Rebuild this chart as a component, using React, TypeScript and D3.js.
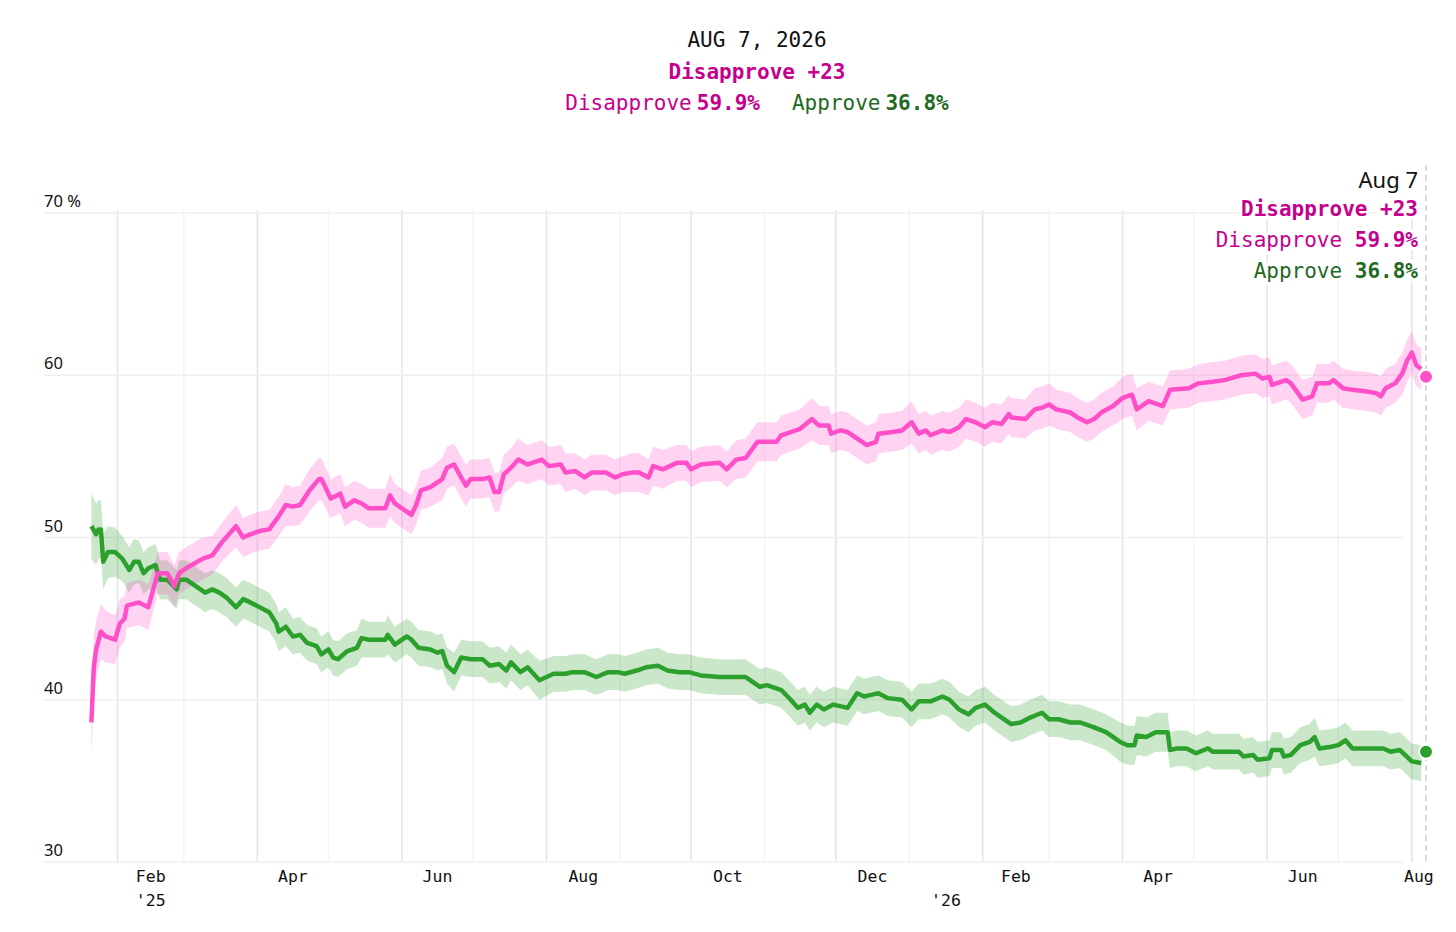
import React, { useEffect, useRef } from 'react';
import * as d3 from 'd3';

// [date, value, margin]
const disapprove: [string, number, number][] = [
  ['2025-01-21', 38.6, 2.0], ['2025-01-22', 42.0, 1.9], ['2025-01-23', 43.1, 1.8], ['2025-01-25', 44.2, 1.7],
  ['2025-01-27', 43.9, 1.6], ['2025-01-31', 43.7, 1.5], ['2025-02-02', 44.7, 1.5], ['2025-02-04', 45.0, 1.4],
  ['2025-02-05', 45.8, 1.4], ['2025-02-10', 46.0, 1.4], ['2025-02-14', 45.7, 1.4], ['2025-02-18', 47.8, 1.3],
  ['2025-02-22', 47.8, 1.3], ['2025-02-25', 47.0, 1.3], ['2025-02-27', 47.8, 1.3], ['2025-03-03', 48.2, 1.3],
  ['2025-03-09', 48.7, 1.3], ['2025-03-13', 48.9, 1.2], ['2025-03-17', 49.7, 1.2], ['2025-03-23', 50.7, 1.3],
  ['2025-03-26', 50.0, 1.2], ['2025-03-29', 50.2, 1.2], ['2025-04-02', 50.4, 1.2], ['2025-04-06', 50.5, 1.2],
  ['2025-04-10', 51.3, 1.2], ['2025-04-13', 52.0, 1.3], ['2025-04-16', 51.9, 1.2], ['2025-04-19', 52.0, 1.2],
  ['2025-04-23', 52.9, 1.3], ['2025-04-27', 53.6, 1.3], ['2025-04-28', 53.6, 1.3], ['2025-05-02', 52.4, 1.2],
  ['2025-05-06', 52.7, 1.2], ['2025-05-08', 51.9, 1.2], ['2025-05-12', 52.3, 1.2], ['2025-05-15', 52.1, 1.2],
  ['2025-05-18', 51.8, 1.2], ['2025-05-25', 51.8, 1.2], ['2025-05-27', 52.6, 1.3], ['2025-05-29', 52.1, 1.2],
  ['2025-06-01', 51.8, 1.2], ['2025-06-05', 51.4, 1.2], ['2025-06-07', 52.0, 1.2], ['2025-06-09', 52.9, 1.2],
  ['2025-06-13', 53.1, 1.2], ['2025-06-18', 53.6, 1.3], ['2025-06-20', 54.3, 1.3], ['2025-06-23', 54.5, 1.3],
  ['2025-06-26', 53.7, 1.3], ['2025-06-28', 53.2, 1.3], ['2025-06-30', 53.6, 1.2], ['2025-07-05', 53.6, 1.2],
  ['2025-07-08', 53.7, 1.2], ['2025-07-10', 52.8, 1.2], ['2025-07-12', 52.8, 1.2], ['2025-07-14', 53.9, 1.2],
  ['2025-07-17', 54.3, 1.2], ['2025-07-20', 54.8, 1.3], ['2025-07-24', 54.5, 1.2], ['2025-07-30', 54.8, 1.2],
  ['2025-08-02', 54.4, 1.2], ['2025-08-07', 54.5, 1.2], ['2025-08-09', 54.0, 1.2], ['2025-08-13', 54.1, 1.1],
  ['2025-08-17', 53.7, 1.1], ['2025-08-20', 54.0, 1.1], ['2025-08-26', 54.0, 1.1], ['2025-08-30', 53.7, 1.1],
  ['2025-09-02', 53.9, 1.1], ['2025-09-06', 54.0, 1.2], ['2025-09-09', 54.0, 1.2], ['2025-09-13', 53.7, 1.1],
  ['2025-09-15', 54.4, 1.2], ['2025-09-19', 54.2, 1.2], ['2025-09-25', 54.6, 1.1], ['2025-09-29', 54.6, 1.1],
  ['2025-10-01', 54.2, 1.1], ['2025-10-05', 54.5, 1.1], ['2025-10-13', 54.6, 1.1], ['2025-10-16', 54.2, 1.1],
  ['2025-10-20', 54.8, 1.2], ['2025-10-24', 54.9, 1.2], ['2025-10-29', 55.9, 1.2], ['2025-11-06', 55.9, 1.2],
  ['2025-11-08', 56.3, 1.2], ['2025-11-12', 56.5, 1.2], ['2025-11-16', 56.7, 1.2], ['2025-11-21', 57.3, 1.3],
  ['2025-11-24', 56.9, 1.2], ['2025-11-28', 56.9, 1.2], ['2025-11-29', 56.4, 1.2], ['2025-12-03', 56.6, 1.2],
  ['2025-12-06', 56.5, 1.2], ['2025-12-11', 56.0, 1.2], ['2025-12-14', 55.7, 1.2], ['2025-12-18', 55.9, 1.2],
  ['2025-12-19', 56.4, 1.2], ['2025-12-25', 56.5, 1.2], ['2025-12-29', 56.6, 1.2], ['2026-01-02', 57.1, 1.3],
  ['2026-01-05', 56.4, 1.2], ['2026-01-08', 56.6, 1.2], ['2026-01-10', 56.3, 1.2], ['2026-01-15', 56.6, 1.2],
  ['2026-01-18', 56.5, 1.2], ['2026-01-22', 56.8, 1.2], ['2026-01-25', 57.3, 1.2], ['2026-01-29', 57.1, 1.2],
  ['2026-02-02', 56.8, 1.2], ['2026-02-05', 57.1, 1.2], ['2026-02-09', 57.0, 1.2], ['2026-02-12', 57.6, 1.2],
  ['2026-02-13', 57.4, 1.2], ['2026-02-19', 57.3, 1.2], ['2026-02-23', 57.9, 1.3], ['2026-02-26', 58.0, 1.3],
  ['2026-03-01', 58.2, 1.3], ['2026-03-04', 57.9, 1.2], ['2026-03-10', 57.7, 1.2], ['2026-03-13', 57.4, 1.2],
  ['2026-03-17', 57.1, 1.2], ['2026-03-20', 57.3, 1.2], ['2026-03-23', 57.7, 1.2], ['2026-03-28', 58.1, 1.2],
  ['2026-04-01', 58.6, 1.3], ['2026-04-05', 58.8, 1.3], ['2026-04-07', 57.9, 1.3], ['2026-04-12', 58.4, 1.2],
  ['2026-04-18', 58.1, 1.2], ['2026-04-21', 59.1, 1.2], ['2026-04-29', 59.2, 1.2], ['2026-05-03', 59.5, 1.2],
  ['2026-05-09', 59.6, 1.2], ['2026-05-14', 59.7, 1.2], ['2026-05-21', 60.0, 1.2], ['2026-05-27', 60.1, 1.2],
  ['2026-05-30', 59.8, 1.2], ['2026-06-02', 59.9, 1.2], ['2026-06-03', 59.4, 1.2], ['2026-06-09', 59.7, 1.2],
  ['2026-06-11', 59.5, 1.2], ['2026-06-16', 58.5, 1.2], ['2026-06-20', 58.7, 1.2], ['2026-06-22', 59.5, 1.2],
  ['2026-06-27', 59.5, 1.2], ['2026-06-29', 59.7, 1.2], ['2026-07-03', 59.2, 1.2], ['2026-07-07', 59.1, 1.2],
  ['2026-07-13', 59.0, 1.2], ['2026-07-17', 58.9, 1.2], ['2026-07-19', 58.7, 1.2], ['2026-07-21', 59.2, 1.2],
  ['2026-07-25', 59.5, 1.2], ['2026-07-28', 60.1, 1.3], ['2026-07-30', 60.9, 1.3], ['2026-08-01', 61.4, 1.3],
  ['2026-08-03', 60.6, 1.3], ['2026-08-05', 60.4, 1.3],
];

const approve: [string, number, number][] = [
  ['2025-01-21', 50.7, 2.0], ['2025-01-23', 50.2, 1.9], ['2025-01-24', 50.5, 1.8], ['2025-01-25', 50.5, 1.8],
  ['2025-01-26', 48.5, 1.7], ['2025-01-28', 49.1, 1.6], ['2025-01-31', 49.1, 1.5], ['2025-02-03', 48.7, 1.4],
  ['2025-02-06', 48.0, 1.4], ['2025-02-08', 48.5, 1.4], ['2025-02-10', 48.5, 1.3], ['2025-02-12', 47.8, 1.3],
  ['2025-02-14', 48.1, 1.3], ['2025-02-17', 48.3, 1.3], ['2025-02-19', 47.4, 1.2], ['2025-02-22', 47.4, 1.2],
  ['2025-02-26', 46.8, 1.2], ['2025-02-27', 47.4, 1.2], ['2025-03-02', 47.4, 1.2], ['2025-03-06', 47.0, 1.2],
  ['2025-03-10', 46.6, 1.2], ['2025-03-13', 46.8, 1.2], ['2025-03-16', 46.6, 1.2], ['2025-03-19', 46.3, 1.2],
  ['2025-03-23', 45.7, 1.2], ['2025-03-26', 46.2, 1.2], ['2025-03-29', 46.0, 1.2], ['2025-04-02', 45.7, 1.2],
  ['2025-04-06', 45.4, 1.2], ['2025-04-09', 44.7, 1.2], ['2025-04-10', 44.2, 1.2], ['2025-04-13', 44.5, 1.2],
  ['2025-04-16', 43.9, 1.1], ['2025-04-19', 44.0, 1.1], ['2025-04-22', 43.5, 1.1], ['2025-04-26', 43.3, 1.1],
  ['2025-04-28', 42.8, 1.1], ['2025-05-01', 43.1, 1.1], ['2025-05-03', 42.6, 1.1], ['2025-05-05', 42.5, 1.1],
  ['2025-05-09', 43.0, 1.1], ['2025-05-13', 43.2, 1.1], ['2025-05-15', 43.8, 1.2], ['2025-05-18', 43.7, 1.1],
  ['2025-05-25', 43.7, 1.1], ['2025-05-26', 44.0, 1.2], ['2025-05-29', 43.4, 1.1], ['2025-06-03', 43.9, 1.1],
  ['2025-06-05', 43.7, 1.1], ['2025-06-08', 43.2, 1.1], ['2025-06-13', 43.1, 1.1], ['2025-06-16', 42.9, 1.1],
  ['2025-06-18', 43.0, 1.1], ['2025-06-20', 42.1, 1.1], ['2025-06-23', 41.7, 1.2], ['2025-06-26', 42.6, 1.1],
  ['2025-06-30', 42.5, 1.1], ['2025-07-05', 42.5, 1.1], ['2025-07-08', 42.1, 1.1], ['2025-07-12', 42.2, 1.1],
  ['2025-07-15', 41.8, 1.1], ['2025-07-17', 42.3, 1.1], ['2025-07-21', 41.7, 1.1], ['2025-07-24', 42.0, 1.1],
  ['2025-07-29', 41.2, 1.2], ['2025-08-04', 41.6, 1.1], ['2025-08-09', 41.6, 1.1], ['2025-08-12', 41.7, 1.1],
  ['2025-08-17', 41.7, 1.1], ['2025-08-22', 41.4, 1.1], ['2025-08-27', 41.7, 1.1], ['2025-08-31', 41.7, 1.1],
  ['2025-09-03', 41.6, 1.1], ['2025-09-08', 41.8, 1.1], ['2025-09-12', 42.0, 1.1], ['2025-09-17', 42.1, 1.1],
  ['2025-09-21', 41.8, 1.1], ['2025-09-26', 41.7, 1.1], ['2025-09-30', 41.7, 1.1], ['2025-10-05', 41.5, 1.1],
  ['2025-10-13', 41.4, 1.1], ['2025-10-18', 41.4, 1.1], ['2025-10-24', 41.4, 1.1], ['2025-10-30', 40.8, 1.1],
  ['2025-11-02', 40.9, 1.1], ['2025-11-08', 40.6, 1.1], ['2025-11-12', 40.0, 1.1], ['2025-11-15', 39.5, 1.1],
  ['2025-11-18', 39.7, 1.1], ['2025-11-20', 39.2, 1.1], ['2025-11-23', 39.7, 1.1], ['2025-11-26', 39.4, 1.1],
  ['2025-11-30', 39.7, 1.1], ['2025-12-06', 39.5, 1.1], ['2025-12-10', 40.4, 1.1], ['2025-12-13', 40.2, 1.1],
  ['2025-12-16', 40.3, 1.1], ['2025-12-19', 40.4, 1.1], ['2025-12-23', 40.1, 1.1], ['2025-12-29', 40.0, 1.1],
  ['2026-01-02', 39.4, 1.1], ['2026-01-05', 39.9, 1.1], ['2026-01-10', 39.9, 1.1], ['2026-01-15', 40.2, 1.1],
  ['2026-01-18', 40.0, 1.1], ['2026-01-22', 39.4, 1.1], ['2026-01-26', 39.1, 1.1], ['2026-01-29', 39.5, 1.1],
  ['2026-02-02', 39.7, 1.1], ['2026-02-06', 39.2, 1.1], ['2026-02-09', 38.9, 1.1], ['2026-02-13', 38.5, 1.1],
  ['2026-02-17', 38.6, 1.1], ['2026-02-21', 38.9, 1.1], ['2026-02-26', 39.2, 1.1], ['2026-03-01', 38.8, 1.1],
  ['2026-03-05', 38.8, 1.1], ['2026-03-10', 38.6, 1.1], ['2026-03-14', 38.6, 1.1], ['2026-03-20', 38.3, 1.1],
  ['2026-03-25', 38.0, 1.1], ['2026-03-31', 37.4, 1.2], ['2026-04-03', 37.2, 1.2], ['2026-04-06', 37.2, 1.2],
  ['2026-04-07', 37.8, 1.2], ['2026-04-11', 37.7, 1.2], ['2026-04-15', 38.0, 1.2], ['2026-04-20', 38.0, 1.2],
  ['2026-04-21', 36.9, 1.1], ['2026-04-24', 37.0, 1.1], ['2026-04-28', 37.0, 1.1], ['2026-05-02', 36.7, 1.1],
  ['2026-05-07', 37.0, 1.1], ['2026-05-09', 36.8, 1.1], ['2026-05-15', 36.8, 1.1], ['2026-05-20', 36.8, 1.1],
  ['2026-05-22', 36.5, 1.1], ['2026-05-26', 36.6, 1.1], ['2026-05-28', 36.3, 1.1], ['2026-06-02', 36.4, 1.1],
  ['2026-06-03', 36.9, 1.1], ['2026-06-07', 36.9, 1.1], ['2026-06-08', 36.5, 1.1], ['2026-06-11', 36.6, 1.1],
  ['2026-06-15', 37.2, 1.1], ['2026-06-19', 37.4, 1.1], ['2026-06-21', 37.7, 1.2], ['2026-06-23', 37.0, 1.1],
  ['2026-06-28', 37.1, 1.1], ['2026-07-01', 37.2, 1.1], ['2026-07-04', 37.5, 1.1], ['2026-07-07', 37.0, 1.1],
  ['2026-07-13', 37.0, 1.1], ['2026-07-20', 37.0, 1.1], ['2026-07-23', 36.8, 1.1], ['2026-07-27', 36.9, 1.1],
  ['2026-08-01', 36.2, 1.1], ['2026-08-05', 36.1, 1.1],
];

const yTicks = [30, 40, 50, 60, 70];
const yearLabels: [string, string][] = [['2025-02-01', "'25"], ['2026-01-01', "'26"]];
const latest = { date: '2026-08-07', disapprove: 59.9, approve: 36.8, net: 23 };

const PINK = '#ff4fc8';
const GREEN = '#2ca02c';
const MAGENTA_TEXT = '#c6008e';
const GREEN_TEXT = '#1f6a1f';
const MONO = '"DejaVu Sans Mono", monospace';
const SANS = '"Noto Sans", sans-serif';

const parse = d3.timeParse('%Y-%m-%d');

const App: React.FC = () => {
  const svgRef = useRef<SVGSVGElement>(null);

  useEffect(() => {
    if (!svgRef.current) return;
    const svg = d3.select(svgRef.current);
    svg.selectAll('*').remove();

    const start = new Date(2025, 0, 1);
    const end = parse(latest.date)!;
    const x = d3.scaleTime().domain([start, end]).range([44, 1426]);
    const y = d3.scaleLinear().domain([30, 70]).range([862, 213]);
    const gridRight = 1403;

    // vertical month gridlines
    const months = d3.timeMonth.range(new Date(2025, 1, 1), d3.timeDay.offset(end, 1));
    svg.append('g')
      .selectAll('line')
      .data(months)
      .enter()
      .append('line')
      .attr('x1', (d) => x(d))
      .attr('x2', (d) => x(d))
      .attr('y1', 210)
      .attr('y2', y(30))
      .attr('stroke', (d) => (d.getMonth() % 2 === 1 ? '#e3e3ea' : '#f3f3f5'))
      .attr('stroke-width', 1.5);

    // horizontal gridlines
    svg.append('g')
      .selectAll('line')
      .data(yTicks)
      .enter()
      .append('line')
      .attr('x1', 44)
      .attr('x2', gridRight)
      .attr('y1', (d) => y(d))
      .attr('y2', (d) => y(d))
      .attr('stroke', '#efefef')
      .attr('stroke-width', 1.5);

    // y labels
    svg.append('g')
      .selectAll('text')
      .data(yTicks)
      .enter()
      .append('text')
      .attr('x', 44)
      .attr('y', (d) => y(d) - 6)
      .attr('font-family', SANS)
      .attr('font-size', 16.5)
      .attr('fill', '#111')
      .text((d) => (d === 70 ? '70 %' : String(d)));

    // month labels, centered in the visible part of the month
    const labelMonths = months.filter((d) => d.getMonth() % 2 === 1);
    const mid = (d: Date) => {
      const next = d3.timeMonth.offset(d, 1);
      const a = Math.max(+d, +start);
      const b = Math.min(+next, +end);
      return x(new Date((a + b) / 2));
    };
    svg.append('g')
      .selectAll('text')
      .data(labelMonths)
      .enter()
      .append('text')
      .attr('x', (d) => mid(d))
      .attr('y', 882)
      .attr('text-anchor', 'middle')
      .attr('font-family', MONO)
      .attr('font-size', 16.5)
      .attr('fill', '#111')
      .text((d) => d3.timeFormat('%b')(d));

    svg.append('g')
      .selectAll('text')
      .data(yearLabels)
      .enter()
      .append('text')
      .attr('x', (d) => mid(parse(d[0])!))
      .attr('y', 906)
      .attr('text-anchor', 'middle')
      .attr('font-family', MONO)
      .attr('font-size', 16.5)
      .attr('fill', '#111')
      .text((d) => d[1]);

    // dashed marker for latest date
    svg.append('line')
      .attr('x1', x(end))
      .attr('x2', x(end))
      .attr('y1', 165)
      .attr('y2', y(30))
      .attr('stroke', '#c9cfd9')
      .attr('stroke-width', 1.5)
      .attr('stroke-dasharray', '6,4');

    const series = [
      { data: approve, color: GREEN },
      { data: disapprove, color: PINK },
    ];

    series.forEach((s) => {
      const pts = s.data.map(([d, v, m]) => ({ date: parse(d)!, v, m }));
      const area = d3.area<typeof pts[0]>()
        .x((d) => x(d.date))
        .y0((d) => y(d.v - d.m))
        .y1((d) => y(d.v + d.m));
      svg.append('path')
        .attr('d', area(pts))
        .attr('fill', s.color)
        .attr('fill-opacity', 0.25);
    });

    series.forEach((s) => {
      const pts = s.data.map(([d, v]) => ({ date: parse(d)!, v }));
      const line = d3.line<typeof pts[0]>()
        .x((d) => x(d.date))
        .y((d) => y(d.v));
      svg.append('path')
        .attr('d', line(pts))
        .attr('fill', 'none')
        .attr('stroke', s.color)
        .attr('stroke-width', 4.5)
        .attr('stroke-linejoin', 'round');
    });

    // end dots
    [
      { v: latest.disapprove, color: PINK },
      { v: latest.approve, color: GREEN },
    ].forEach((p) => {
      svg.append('circle')
        .attr('cx', x(end))
        .attr('cy', y(p.v))
        .attr('r', 7)
        .attr('fill', p.color)
        .attr('stroke', '#fff')
        .attr('stroke-width', 2);
    });

    // header
    const header = svg.append('g').attr('font-family', MONO).attr('font-size', 21).attr('text-anchor', 'middle');
    header.append('text').attr('x', 757).attr('y', 47).attr('fill', '#111')
      .text(d3.timeFormat('%b %-d, %Y')(end).toUpperCase());
    header.append('text').attr('x', 757).attr('y', 79).attr('fill', MAGENTA_TEXT).attr('font-weight', 'bold')
      .text(`Disapprove +${latest.net}`);
    const h3 = header.append('text').attr('x', 757).attr('y', 110);
    h3.append('tspan').attr('fill', MAGENTA_TEXT).text('Disapprove');
    h3.append('tspan').attr('fill', MAGENTA_TEXT).attr('font-weight', 'bold').attr('dx', 5).text(`${latest.disapprove.toFixed(1)}%`);
    h3.append('tspan').attr('fill', GREEN_TEXT).attr('dx', 32).text('Approve');
    h3.append('tspan').attr('fill', GREEN_TEXT).attr('font-weight', 'bold').attr('dx', 5).text(`${latest.approve.toFixed(1)}%`);

    // annotation at the latest date
    const ann = svg.append('g')
      .attr('text-anchor', 'end')
      .attr('stroke', '#fff')
      .attr('stroke-width', 7)
      .attr('stroke-linejoin', 'round')
      .attr('paint-order', 'stroke');
    const ax = 1418;
    ann.append('text').attr('x', ax).attr('y', 188).attr('font-family', SANS).attr('font-size', 22).attr('fill', '#111')
      .text(d3.timeFormat('%b %-d')(end));
    ann.append('text').attr('x', ax).attr('y', 216).attr('font-family', MONO).attr('font-size', 21)
      .attr('font-weight', 'bold').attr('fill', MAGENTA_TEXT).text(`Disapprove +${latest.net}`);
    const a2 = ann.append('text').attr('x', ax).attr('y', 247).attr('font-family', MONO).attr('font-size', 21);
    a2.append('tspan').attr('fill', MAGENTA_TEXT).text('Disapprove ');
    a2.append('tspan').attr('fill', MAGENTA_TEXT).attr('font-weight', 'bold').text(`${latest.disapprove.toFixed(1)}%`);
    const a3 = ann.append('text').attr('x', ax).attr('y', 278).attr('font-family', MONO).attr('font-size', 21);
    a3.append('tspan').attr('fill', GREEN_TEXT).text('Approve ');
    a3.append('tspan').attr('fill', GREEN_TEXT).attr('font-weight', 'bold').text(`${latest.approve.toFixed(1)}%`);
  }, []);

  return (
    <svg
      ref={svgRef}
      width={1456}
      height={932}
      style={{ position: 'absolute', left: 0, top: 0, background: '#fff' }}
    />
  );
};

export default App;
